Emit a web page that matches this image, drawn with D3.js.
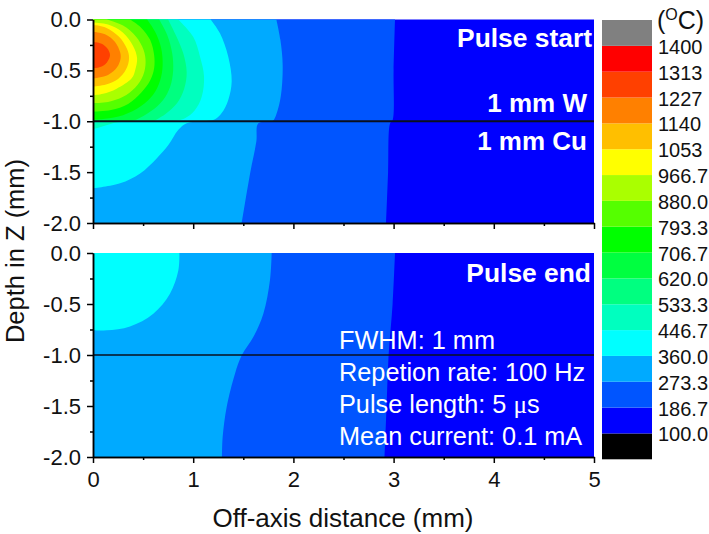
<!DOCTYPE html>
<html>
    <head>
        <title>Temperature contours</title>
        <style>
body {
    margin: 0;
    background: #fff;
}

svg {
    display: block;
    font-family: "Liberation Sans", Arial, sans-serif;
}

.axis path, .axis line {
    stroke: #000;
    stroke-width: 1.5;
}

.axis text {
    font-size: 22px;
    fill: #111;
}
        </style>
    </head>
    <body>
        <div id="d3"></div>
        <script src="https://d3js.org/d3.v7.min.js"></script>
        <script>

// colorbar, bottom to top
const levels = ["100.0", "186.7", "273.3", "360.0", "446.7", "533.3", "620.0", "706.7",
    "793.3", "880.0", "966.7", "1053", "1140", "1227", "1313", "1400"]
const bandColors = ["#000000", "#0000ff", "#0055ff", "#00aaff", "#00ffff", "#00ffbf", "#00ff80", "#00ff40",
    "#00ff00", "#55ff00", "#aaff00", "#ffff00", "#ffbf00", "#ff8000", "#ff4000", "#ff0000", "#808080"]

const xTicks = [0, 1, 2, 3, 4, 5]
const xMinorTicks = [0.5, 1.5, 2.5, 3.5, 4.5]
const yTicks = [0, -0.5, -1, -1.5, -2]
const yTickLabels = ["0.0", "-0.5", "-1.0", "-1.5", "-2.0"]
const yMinorTicks = [-0.25, -0.75, -1.25, -1.75]
const interfaceDepth = -1

// isotherms, [distance, depth]
const start187 = [[3.014, 0], [3.0, -0.5], [2.99, -0.99], [2.965, -1.02], [2.945, -1.5], [2.925, -2]]
const start273 = [[1.83, 0], [1.87, -0.2], [1.893, -0.45], [1.875, -0.75], [1.83, -0.93], [1.79, -1.0],
    [1.65, -1.02], [1.63, -1.2], [1.57, -1.5], [1.484, -2]]
const start360 = [[1.174, 0], [1.267, -0.136], [1.35, -0.366], [1.384, -0.61], [1.35, -0.79], [1.284, -0.92],
    [1.218, -0.98], [1.1, -1.0], [0.935, -1.02], [0.85, -1.087], [0.752, -1.234], [0.635, -1.365],
    [0.47, -1.513], [0.27, -1.61], [0, -1.66]]
const start447 = [[0.85, 0], [1.0, -0.17], [1.068, -0.366], [1.108, -0.56], [1.085, -0.76], [1.018, -0.89],
    [0.918, -0.97], [0.768, -1.0], [0.25, -1.01], [0.1, -1.05], [0, -1.08]]
const start533 = [[0.75, 0], [0.82, -0.14], [0.9, -0.33], [0.935, -0.52], [0.91, -0.68], [0.84, -0.82],
    [0.72, -0.93], [0.6, -1.0]]
const start620 = [[0.66, 0], [0.74, -0.15], [0.79, -0.33], [0.8, -0.5], [0.77, -0.66], [0.7, -0.79],
    [0.58, -0.9], [0.43, -0.985], [0.36, -1.0]]
const start707 = [[0.54, 0], [0.62, -0.12], [0.68, -0.28], [0.695, -0.45], [0.67, -0.6], [0.6, -0.74],
    [0.48, -0.85], [0.3, -0.94], [0.12, -0.975], [0, -0.985]]
const start793 = [[0.37, 0], [0.48, -0.08], [0.57, -0.2], [0.61, -0.35], [0.61, -0.48], [0.57, -0.6],
    [0.48, -0.72], [0.35, -0.83], [0.18, -0.89], [0, -0.906]]
const start880 = [[0.14, 0], [0.3, -0.06], [0.43, -0.17], [0.505, -0.3], [0.525, -0.42], [0.5, -0.55],
    [0.42, -0.67], [0.3, -0.76], [0.15, -0.81], [0, -0.82]]
const start967 = [[0, -0.03], [0.15, -0.05], [0.3, -0.13], [0.4, -0.26], [0.44, -0.38], [0.42, -0.5],
    [0.386, -0.578], [0.236, -0.68], [0.1, -0.73], [0, -0.745]]
const start1053 = [[0, -0.055], [0.13, -0.08], [0.26, -0.17], [0.34, -0.29], [0.36, -0.38], [0.33, -0.49],
    [0.25, -0.585], [0.13, -0.64], [0, -0.66]]
const start1140 = [[0, -0.12], [0.12, -0.145], [0.22, -0.22], [0.27, -0.32], [0.276, -0.38], [0.24, -0.47],
    [0.15, -0.545], [0, -0.58]]
const start1227 = [[0, -0.22], [0.08, -0.235], [0.14, -0.28], [0.17, -0.35], [0.14, -0.42], [0.08, -0.465], [0, -0.48]]

const end187 = [[3.014, 0], [2.99, -0.5], [2.95, -1], [2.93, -1.5], [2.91, -2]]
const end273 = [[1.783, 0], [1.766, -0.268], [1.7, -0.595], [1.6, -0.824], [1.484, -1.003], [1.417, -1.183],
    [1.334, -1.51], [1.294, -1.804], [1.287, -2]]
const end360 = [[0.862, 0], [0.852, -0.17], [0.768, -0.4], [0.602, -0.595], [0.369, -0.72], [0.136, -0.758], [0, -0.758]]

// first contour fills band 2 of bandColors, next one band 3 and so on
const startContours = [start187, start273, start360, start447, start533, start620, start707,
    start793, start880, start967, start1053, start1140, start1227]
const endContours = [end187, end273, end360]

const width = 709
const height = 534

const svg = d3.select("#d3").append("svg")
    .attr("width", width)
    .attr("height", height)

const x = d3.scaleLinear().domain([0, 5]).range([93, 594])
const yStart = d3.scaleLinear().domain([0, -2]).range([19.5, 223])
const yEnd = d3.scaleLinear().domain([0, -2]).range([253, 457])

const drawPanel = (y, contours, lineWidth, showXLabels) => {
    svg.append("rect")
        .attr("x", x(0))
        .attr("y", y(0))
        .attr("width", x(5) - x(0))
        .attr("height", y(-2) - y(0))
        .attr("fill", bandColors[1])

    const line = d3.line()
        .x(d => x(d[0]))
        .y(d => y(d[1]))
        .curve(d3.curveCatmullRom.alpha(0.5))

    contours.forEach((pts, i) => {
        // close along the axis (and the bottom, when the curve runs down there)
        const last = pts[pts.length - 1]
        let path = line(pts)
        path += "L" + x(0) + "," + y(last[1])
        if(pts[0][1] === 0) path += "L" + x(0) + "," + y(0)
        svg.append("path")
            .attr("d", path + "Z")
            .attr("fill", bandColors[i + 2])
    })

    svg.append("line")
        .attr("x1", x(0))
        .attr("x2", x(5))
        .attr("y1", y(interfaceDepth))
        .attr("y2", y(interfaceDepth))
        .attr("stroke", "#0a0f1e")
        .attr("stroke-width", lineWidth)

    // minor ticks first, then the labelled ones
    svg.append("g")
        .attr("class", "axis")
        .attr("transform", "translate(0," + y(-2) + ")")
        .call(d3.axisBottom(x).tickValues(xMinorTicks).tickSize(3).tickSizeOuter(0).tickFormat(""))
    svg.append("g")
        .attr("class", "axis")
        .attr("transform", "translate(0," + y(-2) + ")")
        .call(d3.axisBottom(x).tickValues(xTicks).tickSize(6).tickSizeOuter(0).tickPadding(8)
            .tickFormat(d => showXLabels ? d : ""))

    svg.append("g")
        .attr("class", "axis")
        .attr("transform", "translate(" + x(0) + ",0)")
        .call(d3.axisLeft(y).tickValues(yMinorTicks).tickSize(3).tickSizeOuter(0).tickFormat(""))
    svg.append("g")
        .attr("class", "axis")
        .attr("transform", "translate(" + x(0) + ",0)")
        .call(d3.axisLeft(y).tickValues(yTicks).tickSize(6).tickSizeOuter(0).tickPadding(6)
            .tickFormat((d, i) => yTickLabels[i]))
}

drawPanel(yStart, startContours, 2, false)
drawPanel(yEnd, endContours, 1.5, true)

const label = (text, px, py, size, anchor, bold, fill) => svg.append("text")
    .attr("x", px)
    .attr("y", py)
    .attr("font-size", size)
    .attr("text-anchor", anchor)
    .attr("font-weight", bold ? "bold" : "normal")
    .attr("fill", fill)
    .text(text)

label("Pulse start", 592, 47, 26.4, "end", true, "#fff")
label("1 mm W", 587, 112, 26, "end", true, "#fff")
label("1 mm Cu", 587, 150, 26, "end", true, "#fff")
label("Pulse end", 591, 282, 26.4, "end", true, "#fff")

label("FWHM: 1 mm", 339, 349, 25.3, "start", false, "#fff")
label("Repetion rate: 100 Hz", 339, 381, 25.3, "start", false, "#fff")
const pulseLength = label("Pulse length: 5 ", 339, 413, 25.3, "start", false, "#fff")
pulseLength.append("tspan").attr("font-family", "Liberation Serif").text("μ")
pulseLength.append("tspan").text("s")
label("Mean current: 0.1 mA", 339, 445, 25.3, "start", false, "#fff")

label("Off-axis distance (mm)", 343, 527, 26, "middle", false, "#111")
label("Depth in Z (mm)", 0, 0, 25.5, "middle", false, "#111")
    .attr("transform", "translate(24,251) rotate(-90)")

// colorbar
const bar = d3.scaleBand()
    .domain(d3.range(bandColors.length))
    .range([459.3, 20])

svg.selectAll(".cell")
    .data(bandColors)
    .enter()
    .append("rect")
    .attr("class", "cell")
    .attr("x", 602)
    .attr("width", 50)
    .attr("y", (d, i) => bar(i))
    .attr("height", bar.bandwidth())
    .attr("fill", d => d)

svg.selectAll(".level")
    .data(levels)
    .enter()
    .append("text")
    .attr("class", "level")
    .attr("x", 658)
    .attr("y", (d, i) => bar(i) + 8)
    .attr("font-size", 20)
    .attr("fill", "#111")
    .text(d => d)

const unit = label("(", 657, 29, 25, "start", false, "#111")
unit.append("tspan").attr("font-size", 16).attr("dy", -9).text("O")
unit.append("tspan").attr("dy", 9).text("C)")

        </script>
    </body>
</html>
